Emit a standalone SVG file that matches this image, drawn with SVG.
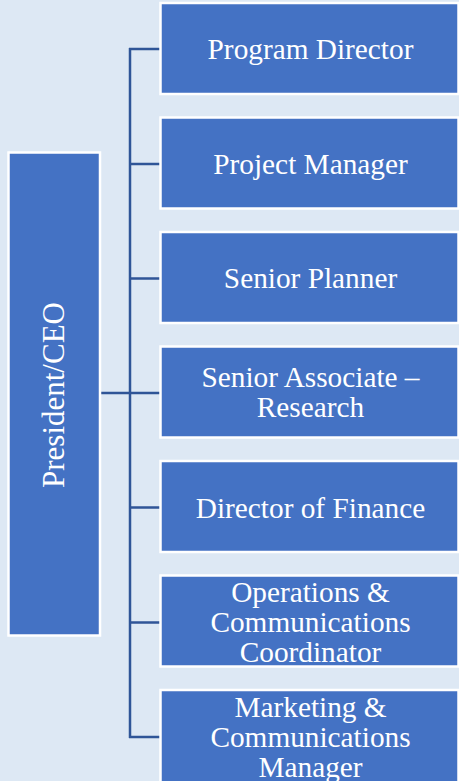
<svg xmlns="http://www.w3.org/2000/svg" width="459" height="781" viewBox="0 0 459 781">
<style>
.bg{fill:#dde8f4}
.box{fill:#4472c4;stroke:#ffffff;stroke-width:2.5}
.t{font-family:'Liberation Serif','DejaVu Serif',serif;font-size:29.3px;fill:#ffffff;text-anchor:middle}
.c{stroke:#2f5597;stroke-width:2.5;fill:none}
</style>
<rect class="bg" x="0" y="0" width="459" height="781"/>
<g id="connectors">
<line class="c" x1="130" y1="48" x2="130" y2="738"/>
<line class="c" x1="101" y1="393" x2="160" y2="393"/>
<line class="c" x1="129" y1="49" x2="160" y2="49"/>
<line class="c" x1="130" y1="164" x2="160" y2="164"/>
<line class="c" x1="130" y1="278.5" x2="160" y2="278.5"/>
<line class="c" x1="130" y1="507.5" x2="160" y2="507.5"/>
<line class="c" x1="130" y1="622.5" x2="160" y2="622.5"/>
<line class="c" x1="129" y1="737" x2="160" y2="737"/>
</g>
<g id="president">
<rect class="box" x="8.5" y="152.5" width="91.5" height="483"/>
<text class="t" style="font-size:31px" transform="translate(63.5,395) rotate(-90)" x="0" y="0">President/CEO</text>
</g>
<g id="program-director">
<rect class="box" x="160.5" y="3" width="298" height="91"/>
<text class="t" x="310.5" y="58.5">Program Director</text>
</g>
<g id="project-manager">
<rect class="box" x="160.5" y="117.5" width="298" height="91"/>
<text class="t" x="310.5" y="173.5">Project Manager</text>
</g>
<g id="senior-planner">
<rect class="box" x="160.5" y="232" width="298" height="91"/>
<text class="t" x="310.5" y="288.3">Senior Planner</text>
</g>
<g id="senior-associate">
<rect class="box" x="160.5" y="346.5" width="298" height="91"/>
<text class="t" x="310.5" y="386.7">Senior Associate –</text>
<text class="t" x="310.5" y="417.3">Research</text>
</g>
<g id="director-finance">
<rect class="box" x="160.5" y="461" width="298" height="91"/>
<text class="t" x="310.5" y="518.3">Director of Finance</text>
</g>
<g id="operations-coordinator">
<rect class="box" x="160.5" y="575.5" width="298" height="91"/>
<text class="t" x="310.5" y="602.3">Operations &amp;</text>
<text class="t" x="310.5" y="632.3">Communications</text>
<text class="t" x="310.5" y="662.3">Coordinator</text>
</g>
<g id="marketing-manager">
<rect class="box" x="160.5" y="690" width="298" height="95"/>
<text class="t" x="310.5" y="716.7">Marketing &amp;</text>
<text class="t" x="310.5" y="746.7">Communications</text>
<text class="t" x="310.5" y="776.7">Manager</text>
</g>
</svg>
